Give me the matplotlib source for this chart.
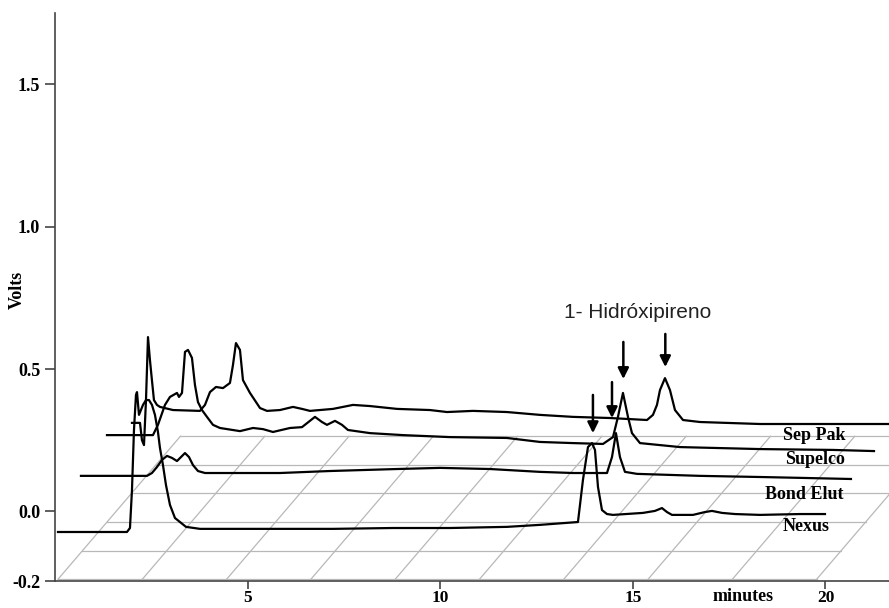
import numpy as np
import matplotlib
matplotlib.use('Agg')
import matplotlib.pyplot as plt

# traces: time (minutes), signal as drawn (volts)
nexus_t = [0.065, 1.857, 1.935, 1.987, 2.039, 2.091, 2.117, 2.169, 2.273, 2.351, 2.429,
           2.506, 2.584, 2.662, 2.714, 2.792, 2.870, 2.974, 3.104, 3.234, 3.390, 3.753,
           7.208, 8.766, 10.247, 11.727, 12.584, 13.571, 13.701, 13.831, 13.935, 14.013,
           14.091, 14.195, 14.325, 14.481, 15.260, 15.571, 15.753, 15.883, 16.013, 16.558,
           16.870, 17.052, 17.312, 17.649, 18.299, 19.338, 19.987]
nexus_v = [-0.072, -0.072, -0.058, 0.075, 0.286, 0.409, 0.419, 0.339, 0.374, 0.391, 0.391,
           0.374, 0.339, 0.279, 0.223, 0.163, 0.093, 0.023, -0.023, -0.037, -0.054, -0.061,
           -0.061, -0.058, -0.058, -0.054, -0.047, -0.037, 0.111, 0.226, 0.240, 0.216,
           0.086, 0.005, -0.009, -0.012, -0.005, 0.002, 0.012, -0.002, -0.012, -0.012,
           -0.002, 0.002, -0.005, -0.009, -0.012, -0.009, -0.009]

bond_t = [0.662, 2.377, 2.506, 2.636, 2.766, 2.896, 3.026, 3.156, 3.260, 3.364, 3.468,
          3.571, 3.701, 3.883, 5.831, 7.130, 8.870, 9.987, 11.286, 12.584, 13.442,
          14.325, 14.455, 14.558, 14.662, 14.792, 15.104, 16.740, 18.299, 19.338, 20.662]
bond_v = [0.125, 0.125, 0.135, 0.156, 0.181, 0.195, 0.188, 0.177, 0.191, 0.205, 0.191,
          0.163, 0.142, 0.135, 0.135, 0.142, 0.149, 0.153, 0.149, 0.139, 0.135,
          0.135, 0.191, 0.275, 0.191, 0.139, 0.132, 0.125, 0.121, 0.118, 0.114]

supelco_t = [1.338, 2.532, 2.662, 2.844, 2.974, 3.156, 3.208, 3.286, 3.364, 3.442, 3.545,
             3.623, 3.701, 3.805, 3.935, 4.091, 4.273, 4.792, 5.130, 5.390, 5.649, 6.091,
             6.403, 6.740, 6.922, 7.052, 7.260, 7.442, 7.597, 8.169, 9.026, 10.247, 11.727,
             12.584, 13.442, 14.221, 14.481, 14.610, 14.740, 14.870, 14.974, 15.182, 15.701,
             16.221, 18.299, 20.195, 21.260]
supelco_v = [0.268, 0.268, 0.304, 0.374, 0.402, 0.416, 0.402, 0.416, 0.560, 0.567, 0.539,
             0.444, 0.384, 0.356, 0.332, 0.304, 0.293, 0.282, 0.293, 0.289, 0.279, 0.293,
             0.296, 0.332, 0.314, 0.304, 0.318, 0.304, 0.286, 0.275, 0.268, 0.261, 0.258,
             0.244, 0.240, 0.237, 0.261, 0.332, 0.416, 0.332, 0.275, 0.240, 0.233,
             0.226, 0.219, 0.216, 0.212]

seppak_t = [1.987, 2.195, 2.247, 2.299, 2.351, 2.403, 2.455, 2.506, 2.558, 2.636, 2.714,
            3.052, 3.753, 3.883, 4.013, 4.169, 4.351, 4.532, 4.610, 4.688, 4.792, 4.870,
            5.052, 5.312, 5.494, 5.831, 6.169, 6.403, 6.610, 7.208, 7.727, 8.169, 8.870,
            9.727, 10.169, 10.844, 11.727, 12.584, 13.442, 14.403, 15.364, 15.519, 15.623,
            15.701, 15.831, 15.961, 16.091, 16.299, 16.740, 18.299, 22.0]
seppak_v = [0.311, 0.311, 0.250, 0.233, 0.391, 0.612, 0.530, 0.460, 0.391, 0.374, 0.367,
            0.356, 0.353, 0.374, 0.419, 0.437, 0.433, 0.451, 0.514, 0.591, 0.567, 0.461,
            0.416, 0.363, 0.353, 0.356, 0.367, 0.360, 0.353, 0.360, 0.374, 0.370, 0.360,
            0.356, 0.349, 0.353, 0.349, 0.339, 0.332, 0.328, 0.321, 0.339, 0.374,
            0.426, 0.468, 0.426, 0.356, 0.321, 0.314, 0.307, 0.307]

trace_names = ['Sep Pak', 'Supelco', 'Bond Elut', 'Nexus']
label_t = [18.90, 18.95, 18.43, 18.90]
label_v = [0.268, 0.181, 0.061, -0.054]

# arrows marking 1-hydroxypyrene (Nexus, Bond Elut, Supelco, Sep Pak)
arrow_t = [13.96, 14.455, 14.75, 15.84]
arrow_top = [0.409, 0.454, 0.595, 0.623]
arrow_tip = [0.275, 0.328, 0.465, 0.507]

yticks = [-0.244, 0.0, 0.5, 1.0, 1.5]
ylabels = ['-0.2', '0.0', '0.5', '1.0', '1.5']
xticks = [5, 10, 15, 20]

serif = 'Liberation Serif'

fig = plt.figure(figsize=(8.89, 6.08), dpi=100)
ax = fig.add_axes([0.0624, 0.0444, 0.9376, 0.9345])

# perspective floor
front, back, shift = -0.238, 0.264, 3.18
t0, t1 = 0.065, 19.77
gc = '#b8b8b8'
for k in np.linspace(0, 1, 6):
    y = front + k * (back - front)
    ax.plot([t0 + k * shift, t1 + k * shift], [y, y], color=gc, lw=0.9, zorder=1)
for tb in np.linspace(t0, t1, 10):
    ax.plot([tb, tb + shift], [front, back], color=gc, lw=0.9, zorder=1)

for t, v in [(nexus_t, nexus_v), (bond_t, bond_v), (supelco_t, supelco_v), (seppak_t, seppak_v)]:
    ax.plot(t, v, color='black', lw=1.6, solid_joinstyle='round', zorder=3)

for name, tx, ty in zip(trace_names, label_t, label_v):
    ax.text(tx, ty, name, fontsize=13, fontweight='bold', family=serif,
            ha='left', va='center', zorder=4)

for t, a, b in zip(arrow_t, arrow_top, arrow_tip):
    ax.annotate('', xy=(t, b), xytext=(t, a),
                arrowprops=dict(arrowstyle='-|>', color='black', lw=1.8,
                                mutation_scale=16, shrinkA=0, shrinkB=0), zorder=5)

ax.text(15.13, 0.70, '1- Hidróxipireno', fontsize=15, family='Liberation Sans',
        color='#222222', ha='center', va='center')

ax.set_xlim(0, 21.65)
ax.set_ylim(-0.244, 1.75)
ax.spines['top'].set_visible(False)
ax.spines['right'].set_visible(False)
for s in ['left', 'bottom']:
    ax.spines[s].set_color('#444444')
    ax.spines[s].set_linewidth(1.2)

ax.set_xticks(xticks)
ax.set_yticks(yticks, ylabels)
ax.tick_params(colors='#444444', length=7, width=1.2, pad=4)
ax.tick_params(axis='x', length=6, pad=0.5)
for lab in ax.get_xticklabels() + ax.get_yticklabels():
    lab.set_fontfamily(serif)
    lab.set_fontweight('bold')
    lab.set_fontsize(13)
    lab.set_color('black')
for lab in ax.get_xticklabels():
    lab.set_fontsize(12.5)

ax.text(17.87, -0.028, 'minutes', transform=ax.get_xaxis_transform(),
        family=serif, fontweight='bold', fontsize=13, ha='center', va='center')
fig.text(17 / 889, 1 - 290 / 608, 'Volts', rotation=90, family=serif,
         fontweight='bold', fontsize=13, ha='center', va='center')

fig.savefig('out.png', dpi=100)
